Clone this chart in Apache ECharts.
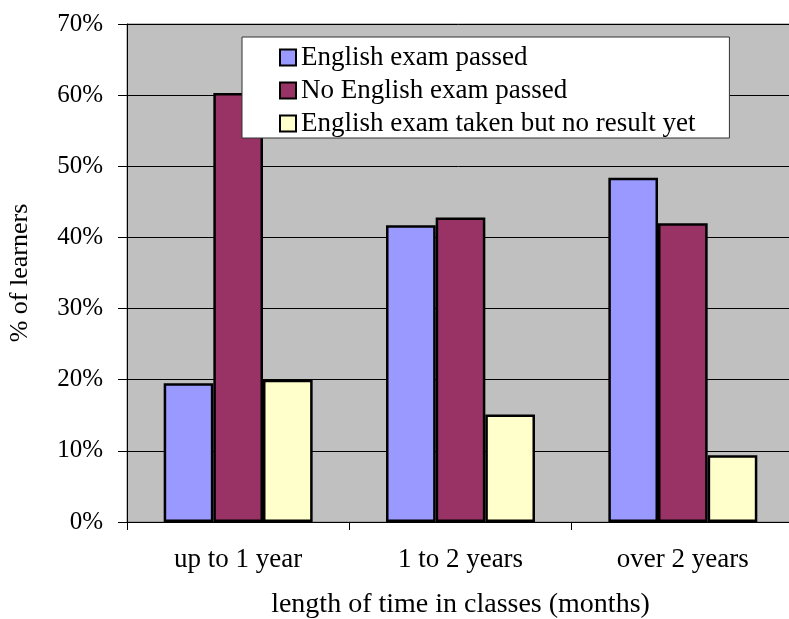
<!DOCTYPE html>
<html>
<head>
<meta charset="utf-8">
<script src="https://cdn.jsdelivr.net/npm/echarts@6/dist/echarts.min.js"></script>
<style>html,body{margin:0;padding:0;background:#fff}#c{width:789px;height:619px}</style>
</head>
<body>
<div id="c"></div>
<script>
const categories = ['up to 1 year', '1 to 2 years', 'over 2 years'];
const seriesNames = ['English exam passed', 'No English exam passed', 'English exam taken but no result yet'];
const passed = [19.5, 41.7, 48.4];
const notPassed = [60.3, 42.8, 42.0];
const noResult = [20.0, 15.1, 9.4];
const yTicks = [0, 10, 20, 30, 40, 50, 60, 70];
const colors = ['#9999FF', '#993366', '#FFFFCC'];

const FONT = '"Liberation Serif", "Times New Roman", serif';
const chart = echarts.init(document.getElementById('c'), null, {renderer: 'canvas'});
const values = [passed, notPassed, noResult];
chart.setOption({
  animation: false,
  textStyle: {fontFamily: FONT, color: '#000'},
  grid: {left: 127, top: 24, width: 667, height: 498, show: true, backgroundColor: '#C0C0C0', borderColor: '#808080', borderWidth: 1, containLabel: false, outerBoundsMode: 'none'},
  legend: {
    orient: 'vertical', left: 242, top: 37,
    backgroundColor: '#fff', borderColor: '#333', borderWidth: 1,
    padding: [7, 34, 1, 37],
    itemWidth: 16, itemHeight: 16, itemGap: 6,
    icon: 'rect',
    textStyle: {fontFamily: FONT, fontSize: 27, color: '#000'},
    data: seriesNames.map((n, i) => ({name: n, itemStyle: {color: colors[i], borderColor: '#000', borderWidth: 2}}))
  },
  xAxis: {
    type: 'category', data: categories,
    name: 'length of time in classes (months)', nameLocation: 'middle', nameGap: 69,
    nameTextStyle: {fontFamily: FONT, fontSize: 28, color: '#000'},
    axisLine: {lineStyle: {color: '#000', width: 1}},
    axisTick: {show: true, length: 8, lineStyle: {color: '#000'}, alignWithLabel: false},
    axisLabel: {fontFamily: FONT, fontSize: 27, color: '#000', margin: 24},
    splitLine: {show: false}
  },
  yAxis: {
    type: 'value', min: yTicks[0], max: yTicks[yTicks.length - 1], interval: 10,
    name: '% of learners', nameLocation: 'middle', nameGap: 94,
    nameTextStyle: {fontFamily: FONT, fontSize: 26, color: '#000'},
    axisLine: {show: true, lineStyle: {color: '#000', width: 1}},
    axisTick: {show: true, length: 9, inside: false, lineStyle: {color: '#000'}},
    axisLabel: {fontFamily: FONT, fontSize: 25, color: '#000', margin: 24, formatter: v => v + '%'},
    splitLine: {show: true, lineStyle: {color: '#000', width: 1}}
  },
  series: seriesNames.map((n, i) => ({
    name: n, type: 'bar', data: values[i],
    barGap: '0%', barCategoryGap: '33%',
    itemStyle: {color: colors[i], borderColor: '#000', borderWidth: 2.5}
  }))
});
</script>
</body>
</html>
